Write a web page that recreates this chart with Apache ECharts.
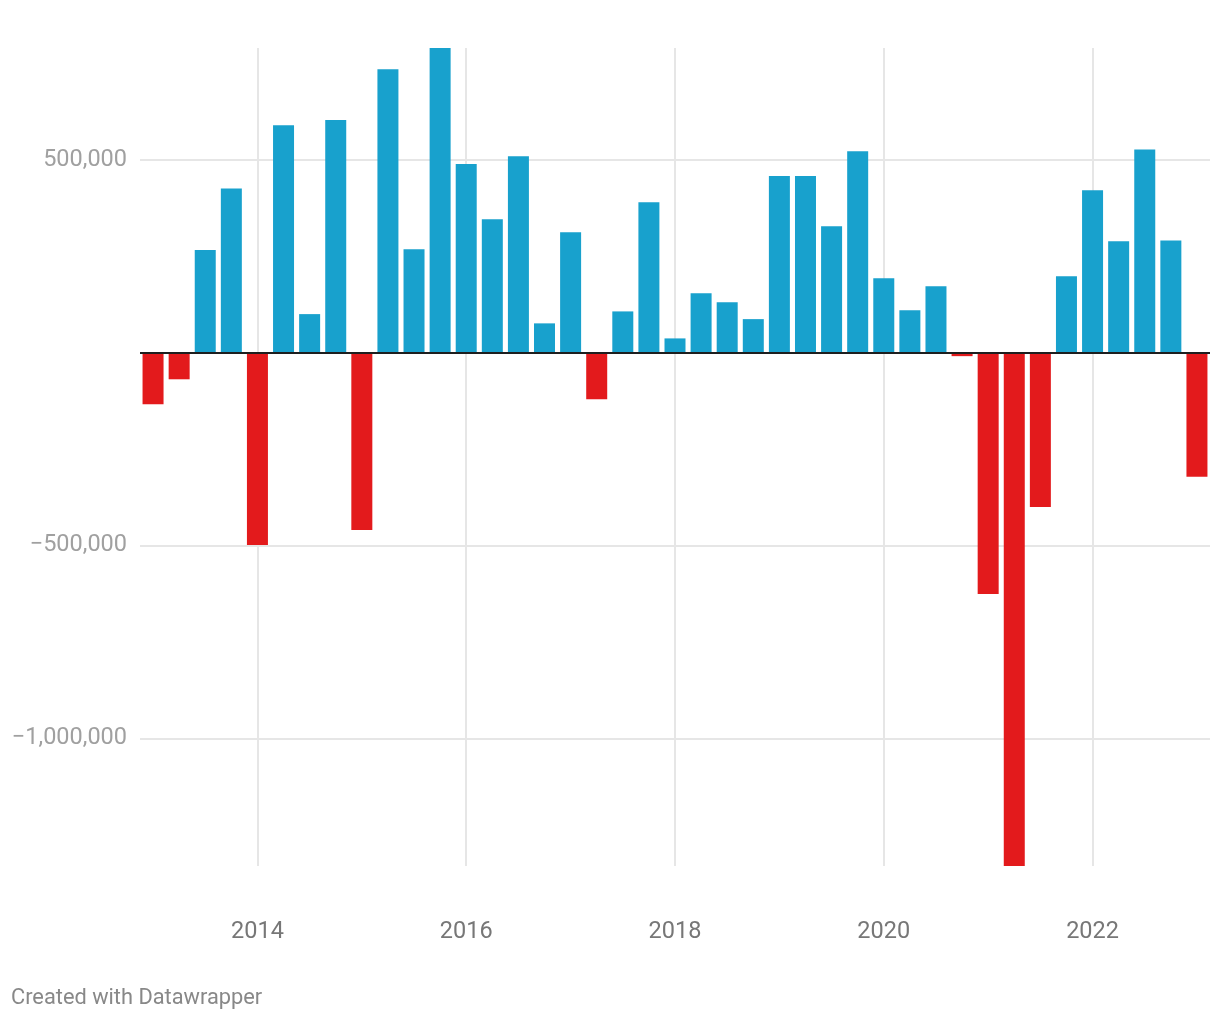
<!DOCTYPE html>
<html>
<head>
<meta charset="utf-8">
<script src="https://cdn.jsdelivr.net/npm/echarts@6/dist/echarts.min.js"></script>
<style>
  html, body { margin: 0; padding: 0; background: #fff; }
  #chart { width: 1220px; height: 1020px; }
</style>
</head>
<body>
<div id="chart"></div>
<script>
// Quarterly categories
const quarters = [
  '2013-Q1','2013-Q2','2013-Q3','2013-Q4',
  '2014-Q1','2014-Q2','2014-Q3','2014-Q4',
  '2015-Q1','2015-Q2','2015-Q3','2015-Q4',
  '2016-Q1','2016-Q2','2016-Q3','2016-Q4',
  '2017-Q1','2017-Q2','2017-Q3','2017-Q4',
  '2018-Q1','2018-Q2','2018-Q3','2018-Q4',
  '2019-Q1','2019-Q2','2019-Q3','2019-Q4',
  '2020-Q1','2020-Q2','2020-Q3','2020-Q4',
  '2021-Q1','2021-Q2','2021-Q3','2021-Q4',
  '2022-Q1','2022-Q2','2022-Q3','2022-Q4',
  '2023-Q1'
];
// Values
const values = [
  -134000, -69000, 266000, 426000,
  -499000, 590000, 100000, 603000,
  -460000, 735000, 268000, 790000,
  489000, 346000, 509000, 76000,
  312000, -121000, 107000, 390000,
  37000, 154000, 131000, 87000,
  458000, 458000, 328000, 522000,
  193000, 110000, 172000, -9000,
  -626000, -1331000, -400000, 198000,
  421000, 289000, 527000, 291000,
  -322000
];
const yTickValues = [-1000000, -500000, 500000];
const xTickCategories = ['2014-Q1','2016-Q1','2018-Q1','2020-Q1','2022-Q1'];
const xTickLabels = ['2014','2016','2018','2020','2022'];

const BLUE = '#18a1cd';
const RED = '#e31a1c';
const GRID = '#e6e6e6';

function fmt(v) {
  const s = Math.abs(v).toLocaleString('en-US');
  return v < 0 ? '\u2212' + s : s;
}

const chart = echarts.init(document.getElementById('chart'), null, { renderer: 'canvas' });

const option = {
  animation: false,
  backgroundColor: '#ffffff',
  textStyle: { fontFamily: 'Roboto' },
  title: {
    text: 'Created with Datawrapper',
    left: 11,
    top: 987,
    padding: 0,
    textStyle: { fontFamily: 'Roboto', fontSize: 21.8, fontWeight: 'normal', color: '#888888', lineHeight: 24 }
  },
  grid: { left: 140, right: 10, top: 48, bottom: 154, containLabel: false },
  xAxis: {
    type: 'category',
    data: quarters,
    boundaryGap: true,
    axisLine: { show: false },
    axisTick: { show: false },
    splitLine: { show: false },
    axisLabel: {
      interval: function (idx, val) { return xTickCategories.indexOf(val) >= 0; },
      formatter: function (val) {
        const i = xTickCategories.indexOf(val);
        return i >= 0 ? xTickLabels[i] : '';
      },
      color: '#777777',
      fontFamily: 'Roboto',
      fontSize: 23.5,
      margin: 54
    }
  },
  yAxis: {
    type: 'value',
    min: Math.min.apply(null, values),
    max: Math.max.apply(null, values),
    axisLine: { show: false },
    axisTick: { show: false },
    splitLine: { show: false },
    axisLabel: {
      customValues: yTickValues,
      formatter: fmt,
      color: '#a0a0a0',
      fontFamily: 'Roboto',
      fontSize: 23.5,
      margin: 13
    }
  },
  series: [
    {
      // background gridlines
      type: 'line',
      data: [],
      z: 1,
      silent: true,
      markLine: {
        z: 1,
        silent: true,
        symbol: 'none',
        animation: false,
        label: { show: false },
        lineStyle: { color: GRID, width: 2, type: 'solid' },
        data: yTickValues.map(v => ({ yAxis: v }))
          .concat(xTickCategories.map(c => ({ xAxis: c })))
      }
    },
    {
      type: 'bar',
      data: values,
      z: 3,
      barWidth: 21,
      itemStyle: {
        color: function (p) { return p.value < 0 ? RED : BLUE; }
      }
    },
    {
      // zero baseline
      type: 'line',
      data: [],
      z: 5,
      silent: true,
      markLine: {
        z: 6,
        silent: true,
        symbol: 'none',
        animation: false,
        label: { show: false },
        lineStyle: { color: '#1e1e1e', width: 2, type: 'solid' },
        data: [{ yAxis: 0 }]
      }
    }
  ]
};

chart.setOption(option);
</script>
</body>
</html>
